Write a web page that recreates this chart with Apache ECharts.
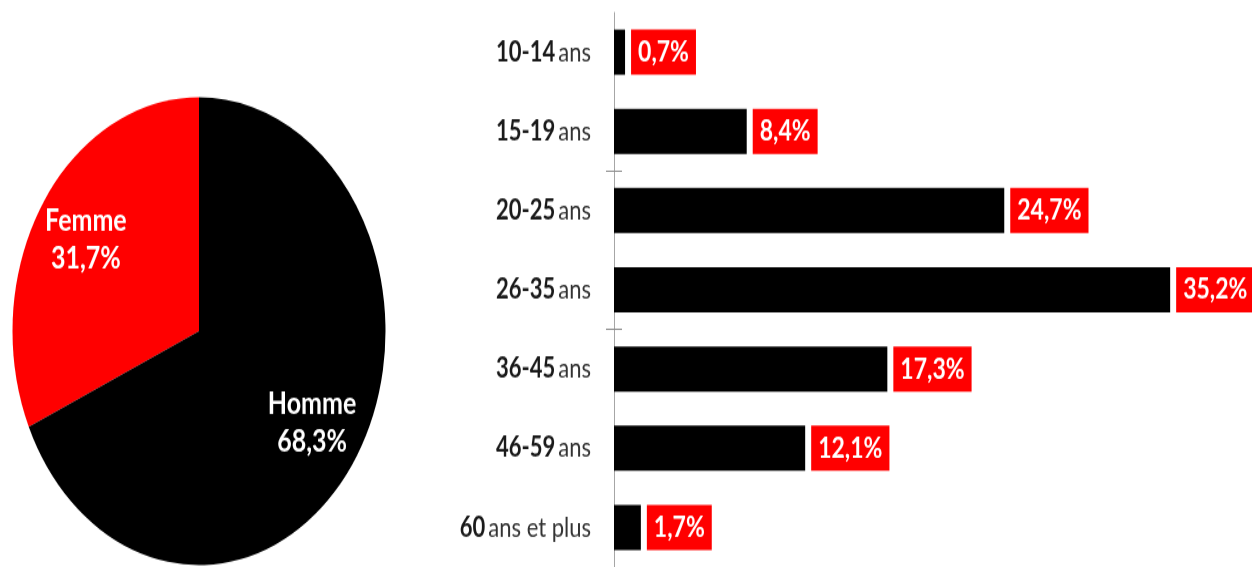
<!DOCTYPE html>
<html><head><meta charset="utf-8">
<script src="https://cdn.jsdelivr.net/npm/echarts@6/dist/echarts.min.js"></script>
<style>html,body{margin:0;padding:0;background:#fff;}
#wrap{width:1252px;height:567px;position:relative;overflow:hidden;}
#c{position:absolute;left:0;top:0;width:1252px;height:452px;transform:scaleY(1.2544);transform-origin:0 0;}</style>
</head><body><div id="wrap"><div id="c"></div></div>
<script>
const sexLabels = ['Femme', 'Homme'];
const sexValues = [31.7, 68.3];
const sexColors = ['#ff0000', '#000000'];
const ageCategories = ['10-14 ans', '15-19 ans', '20-25 ans', '26-35 ans', '36-45 ans', '46-59 ans', '60 ans et plus'];
const ageValues = [0.7, 8.4, 24.7, 35.2, 17.3, 12.1, 1.7];

const FONT = 'Lato';
const pieCenter = [199, 264];
const pieRadius = 186.5;
const fmt = v => v.toFixed(1).replace('.', ',') + '%';
const tickShown = (i) => i === 2 || i === 4;

const chart = echarts.init(document.getElementById('c'), null, {renderer: 'canvas'});
chart.setOption({
  animation: false,
  backgroundColor: '#ffffff',
  grid: {left: 614, top: 10, height: 447.6, right: 6, containLabel: false},
  xAxis: {type: 'value', min: 0, max: 40, show: false},
  yAxis: [{
    type: 'category', inverse: true, data: ageCategories,
    axisLine: {show: true, lineStyle: {color: '#a6a6a6', width: 1}},
    axisTick: {show: true, length: 8, interval: tickShown, lineStyle: {color: '#8c8c8c'}},
    axisLabel: {
      margin: 23, fontFamily: FONT,
      formatter: function (v) {
        const i = v.indexOf(' ');
        return '{b|' + v.slice(0, i) + '} {n|' + v.slice(i + 1) + '}';
      },
      rich: {
        b: {fontFamily: FONT, fontWeight: 'bold', fontSize: 22, color: '#1a1a1a'},
        n: {fontFamily: FONT, fontWeight: 'normal', fontSize: 22, color: '#333333'}
      }
    }
  }, {
    type: 'category', inverse: true, data: ageCategories, position: 'left',
    axisLine: {show: false},
    axisTick: {show: true, inside: true, length: 8, interval: tickShown, lineStyle: {color: '#8c8c8c'}},
    axisLabel: {show: false}
  }],
  series: [{
    type: 'pie',
    center: pieCenter,
    radius: pieRadius,
    startAngle: 90,
    clockwise: false,
    silent: true,
    data: sexLabels.map((n, i) => ({name: n, value: sexValues[i], itemStyle: {color: sexColors[i]}})),
    label: {
      show: true, position: 'inside',
      formatter: p => p.name + '\n' + fmt(p.value),
      color: '#ffffff', fontFamily: FONT, fontWeight: 'bold', fontSize: 25, lineHeight: 30
    },
    labelLine: {show: false},
    labelLayout: function (p) {
      const r = p.labelRect;
      const lx = r.x + r.width / 2, ly = r.y + r.height / 2;
      const k = 0.4;
      return {dx: (lx - pieCenter[0]) * k, dy: (ly - pieCenter[1]) * k};
    }
  }, {
    type: 'bar',
    data: ageValues,
    barWidth: 36,
    itemStyle: {color: '#000000'},
    label: {
      show: true, position: 'right', distance: 6,
      formatter: p => fmt(p.value),
      color: '#ffffff', backgroundColor: '#ff0000',
      fontFamily: FONT, fontWeight: 'bold', fontSize: 23,
      height: 36, lineHeight: 36, padding: [0, 7]
    }
  }]
});
</script></body></html>
